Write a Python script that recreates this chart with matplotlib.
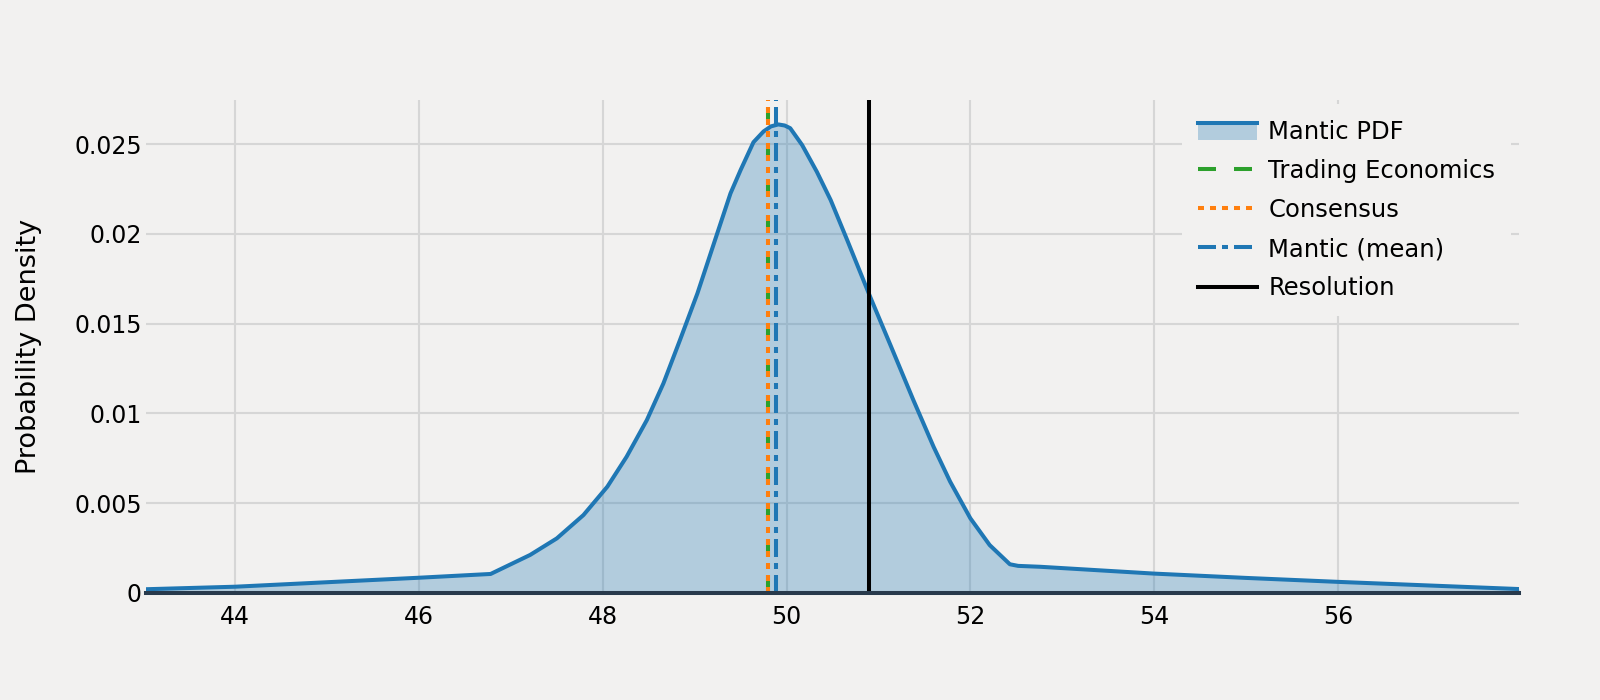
import matplotlib
matplotlib.use('Agg')
import matplotlib.pyplot as plt
from matplotlib.lines import Line2D
from matplotlib.patches import Rectangle
from matplotlib.legend_handler import HandlerBase

plt.rcParams['font.family'] = ['DejaVu Sans']
plt.rcParams['lines.scale_dashes'] = False

# ---------------- data ----------------
pdf_x = [43.03, 44.0, 45.0, 46.0, 46.78, 47.21, 47.50, 47.79, 48.05, 48.26, 48.48,
         48.66, 48.84, 49.03, 49.21, 49.39, 49.50, 49.64, 49.75, 49.83, 49.91,
         49.98, 50.04, 50.17, 50.33, 50.48, 50.66, 50.91, 51.13, 51.38, 51.60,
         51.78, 52.00, 52.21, 52.43, 52.52, 52.76, 54.0, 55.0, 56.0, 57.97]
pdf_y = [0.00021, 0.00035, 0.00060, 0.00085, 0.00106, 0.00212, 0.00304, 0.00434,
         0.00592, 0.00759, 0.00963, 0.01167, 0.01408, 0.01668, 0.01947, 0.02225,
         0.02355, 0.02510, 0.02570, 0.02598, 0.02609, 0.02603, 0.02588, 0.02494,
         0.02345, 0.02188, 0.01965, 0.01649, 0.01381, 0.01074, 0.00814, 0.00620,
         0.00416, 0.00267, 0.00160, 0.00151, 0.00146, 0.00108, 0.00084, 0.00062,
         0.00022]

trading_economics = 49.8
consensus = 49.8
mantic_mean = 49.88
resolution = 50.9

x_ticks = [44, 46, 48, 50, 52, 54, 56]
y_ticks = [0, 0.005, 0.01, 0.015, 0.02, 0.025]
y_tick_labels = ['0', '0.005', '0.01', '0.015', '0.02', '0.025']
x_range = [43.03, 57.97]
y_range = [0, 0.02745]

labels = ['Mantic PDF', 'Trading Economics', 'Consensus', 'Mantic (mean)', 'Resolution']

# ---------------- style ----------------
BG = '#f2f1f0'
BLUE = '#1f77b4'
GREEN = '#2ca02c'
ORANGE = '#ff7f0e'
GRID = '#d6d6d6'
LW = 2.9
PX = 0.72  # px -> pt at 100 dpi

W, H = 1600, 700
fig = plt.figure(figsize=(16, 7), dpi=100, facecolor=BG)
L, R, T, B = 146, 1519, 100, 593
ax = fig.add_axes([L / W, 1 - B / H, (R - L) / W, (B - T) / H])
ax.set_facecolor(BG)
for s in ax.spines.values():
    s.set_visible(False)
ax.grid(True, color=GRID, lw=1.5)
ax.set_axisbelow(True)

ax.fill_between(pdf_x, pdf_y, 0, color=BLUE, alpha=0.3, lw=0, zorder=2)
ax.plot(pdf_x, pdf_y, color=BLUE, lw=LW, zorder=3, solid_joinstyle='round')

ax.axvline(trading_economics, color=GREEN, lw=LW, dashes=(18 * PX, 18 * PX), zorder=4)
ax.axvline(consensus, color=ORANGE, lw=LW, dashes=(6 * PX, 6 * PX), zorder=5)
ax.axvline(mantic_mean, color=BLUE, lw=LW, dashes=(18 * PX, 6 * PX, 6 * PX, 6 * PX), zorder=6)
ax.axvline(resolution, color='black', lw=LW, zorder=7)
ax.axhline(0, color='#283a4c', lw=2.9, zorder=8, clip_on=False)

ax.set_xlim(*x_range)
ax.set_ylim(*y_range)
ax.set_xticks(x_ticks)
ax.set_xticklabels([str(v) for v in x_ticks])
ax.set_yticks(y_ticks)
ax.set_yticklabels(y_tick_labels)
ax.tick_params(axis='both', length=0, labelsize=17, colors='black')
ax.tick_params(axis='x', pad=9)
ax.tick_params(axis='y', pad=3)
ax.set_ylabel('Probability Density', fontsize=19.5, color='black')
ax.yaxis.set_label_coords((42 - L) / (R - L), 0.5)


class PdfHandle:
    pass


class FillLineHandler(HandlerBase):
    def create_artists(self, legend, orig_handle, xdescent, ydescent, width, height,
                       fontsize, trans):
        top = -ydescent + height * 0.95
        rect = Rectangle((-xdescent, -ydescent - height * 0.05), width, height,
                         facecolor=BLUE, alpha=0.3, edgecolor='none', transform=trans)
        line = Line2D([-xdescent, -xdescent + width], [top, top], color=BLUE, lw=LW,
                      transform=trans)
        return [rect, line]


handles = [
    PdfHandle(),
    Line2D([], [], color=GREEN, lw=LW, dashes=(18 * PX, 18 * PX)),
    Line2D([], [], color=ORANGE, lw=LW, dashes=(6 * PX, 6 * PX)),
    Line2D([], [], color=BLUE, lw=LW, dashes=(18 * PX, 6 * PX, 6 * PX, 6 * PX)),
    Line2D([], [], color='black', lw=LW),
]
leg = fig.legend(handles, labels, handler_map={PdfHandle: FillLineHandler()},
                 loc='upper left', bbox_to_anchor=(1182 / W, 1 - 104 / H),
                 borderaxespad=0, fontsize=17.5, frameon=True, facecolor=BG,
                 edgecolor='none', framealpha=1, fancybox=False,
                 handlelength=2.45, handletextpad=0.45, labelspacing=0.62,
                 borderpad=0.65)
leg.set_zorder(10)

fig.savefig('out.png', dpi=100, facecolor=BG)
